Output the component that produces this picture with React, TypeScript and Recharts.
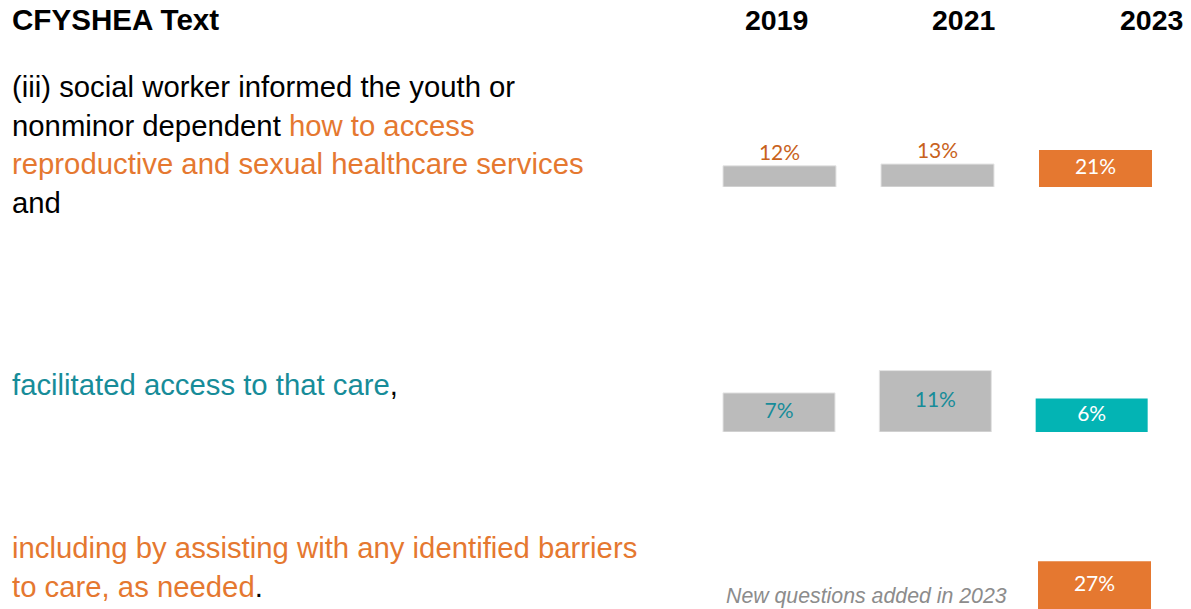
import { BarChart, Bar, XAxis, YAxis, Cell, LabelList } from 'recharts'

// survey years shown as columns
const years = ['2019', '2021', '2023']

// % of respondents per CFYSHEA clause, by year (null = not asked)
const informedValues: (number | null)[] = [12, 13, 21]
const facilitatedValues: (number | null)[] = [7, 11, 6]
const barriersValues: (number | null)[] = [null, null, 27]

const ORANGE = '#E57830'
const ORANGE_TEXT = '#C8621C'
const TEAL = '#03B4B4'
const TEAL_TEXT = '#178C99'
const GREY = '#BBBBBB'

const SANS = '"Liberation Sans", Arial, sans-serif'
const LABEL_FONT = 'Lato, "Open Sans", sans-serif'

interface Row {
  year: string
  value: number | null
}

const toRows = (values: (number | null)[]): Row[] =>
  years.map((year, i) => ({ year, value: values[i] }))

interface RowChartProps {
  data: Row[]
  left: number
  top: number
  width: number
  height: number
  max: number
  barSize: number
  accent: string
  greyLabel: 'above' | 'inside'
  greyLabelColor: string
}

function RowChart({ data, left, top, width, height, max, barSize, accent, greyLabel, greyLabelColor }: RowChartProps) {
  const latest = data[data.length - 1].year
  return (
    <div style={{ position: 'absolute', left, top }}>
      <BarChart width={width} height={height} data={data} margin={{ top: 0, right: 0, bottom: 0, left: 0 }}>
        <XAxis dataKey="year" hide />
        <YAxis hide domain={[0, max]} />
        <Bar dataKey="value" barSize={barSize} isAnimationActive={false}>
          {data.map(d => (
            <Cell
              key={d.year}
              fill={d.year === latest ? accent : GREY}
              stroke={d.year === latest ? 'none' : '#E4E4E4'}
              strokeWidth={1}
            />
          ))}
          {/* label keyed by year so the latest year gets the white in-bar style */}
          <LabelList
            dataKey="year"
            content={(p: any) => {
              const row = data.find(d => d.year === p.value)
              if (!row || row.value == null) return null
              const cx = p.x + p.width / 2
              const highlighted = row.year === latest
              const above = !highlighted && greyLabel === 'above'
              const y = above ? p.y - 6 : p.y + p.height / 2 + 6
              return (
                <text
                  x={cx}
                  y={y}
                  textAnchor="middle"
                  fontFamily={LABEL_FONT}
                  fontSize={21}
                  fill={highlighted ? '#FFFFFF' : greyLabelColor}
                >
                  {row.value}%
                </text>
              )
            }}
          />
        </Bar>
      </BarChart>
    </div>
  )
}

const bodyText: React.CSSProperties = {
  position: 'absolute',
  left: 12,
  fontFamily: SANS,
  fontSize: 29.3,
  lineHeight: '38.7px',
  color: '#000',
  whiteSpace: 'nowrap',
}

const heading: React.CSSProperties = {
  position: 'absolute',
  top: 4,
  fontFamily: SANS,
  fontSize: 28.5,
  fontWeight: 700,
  color: '#000',
  whiteSpace: 'nowrap',
}

export default function App() {
  return (
    <div style={{ position: 'absolute', left: 0, top: 0, width: 1191, height: 609, background: '#fff', overflow: 'hidden' }}>
      <div style={{ ...heading, left: 12, fontSize: 29.6, top: 3 }}>CFYSHEA Text</div>
      <div style={{ ...heading, left: 745 }}>{years[0]}</div>
      <div style={{ ...heading, left: 932 }}>{years[1]}</div>
      <div style={{ ...heading, left: 1120 }}>{years[2]}</div>

      <div style={{ ...bodyText, top: 68 }}>
        (iii) social worker informed the youth or
        <br />
        nonminor dependent <span style={{ color: ORANGE }}>how to access</span>
        <br />
        <span style={{ color: ORANGE }}>reproductive and sexual healthcare services</span>
        <br />
        and
      </div>

      <div style={{ ...bodyText, top: 366 }}>
        <span style={{ color: TEAL_TEXT }}>facilitated access to that care</span>,
      </div>

      <div style={{ ...bodyText, top: 529 }}>
        <span style={{ color: ORANGE }}>including by assisting with any identified barriers</span>
        <br />
        <span style={{ color: ORANGE }}>to care, as needed</span>.
      </div>

      <div
        style={{
          position: 'absolute',
          left: 726,
          top: 584,
          fontFamily: SANS,
          fontSize: 21.3,
          fontStyle: 'italic',
          color: '#8C8C8C',
          whiteSpace: 'nowrap',
        }}
      >
        New questions added in 2023
      </div>

      <RowChart
        data={toRows(informedValues)}
        left={699.5}
        top={134}
        width={474}
        height={53}
        max={30}
        barSize={113}
        accent={ORANGE}
        greyLabel="above"
        greyLabelColor={ORANGE_TEXT}
      />
      <RowChart
        data={toRows(facilitatedValues)}
        left={701}
        top={365}
        width={469}
        height={67}
        max={12}
        barSize={112}
        accent={TEAL}
        greyLabel="inside"
        greyLabelColor={TEAL_TEXT}
      />
      <RowChart
        data={toRows(barriersValues)}
        left={699}
        top={556}
        width={474}
        height={53}
        max={30}
        barSize={113}
        accent={ORANGE}
        greyLabel="inside"
        greyLabelColor={TEAL_TEXT}
      />
    </div>
  )
}
